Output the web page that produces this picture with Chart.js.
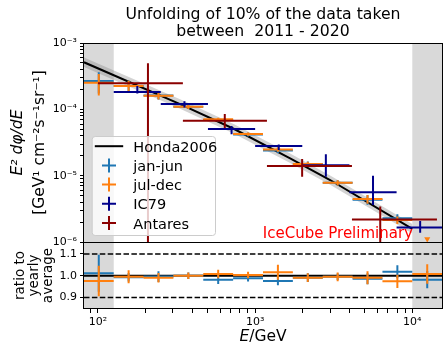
<!DOCTYPE html>
<html>
<head>
<meta charset="utf-8">
<script src="https://cdn.jsdelivr.net/npm/chart.js@4/dist/chart.umd.min.js"></script>
<style>
  html, body { margin: 0; padding: 0; background: #fff; }
</style>
</head>
<body>
<canvas id="chart" width="448" height="354"></canvas>
<script>
var fontName = '"DejaVu Sans"';

// seasonal unfolding bins (jan-jun and jul-dec share them)
var binLow  = [81.3, 125.9, 195, 302, 467.7, 724.4, 1122, 1738, 2692, 4169, 6457, 10000];
var binHigh = [125.9, 195, 302, 467.7, 724.4, 1122, 1738, 2692, 4169, 6457, 10000, 15488];
var binMid  = [101.2, 156.7, 242.7, 375.8, 582.1, 901.6, 1396, 2163, 3350, 5188, 8035, 12445];

var janJun    = [2.68e-4, 2.24e-4, 1.61e-4, 1.09e-4, 6.92e-5, 4.18e-5, 2.39e-5, 1.50e-5, 7.8e-6, 4.35e-6, 2.29e-6, null];
var janJunErr = [0.95e-4, 0.47e-4, 0.2e-4, 0.08e-4, 3.8e-6, 2.7e-6, 2.1e-6, 1.3e-6, 0.75e-6, 0.7e-6, 0.32e-6, null];
var julDec    = [2.52e-4, 2.25e-4, 1.60e-4, 1.09e-4, 7.1e-5, 4.24e-5, 2.49e-5, 1.50e-5, 7.8e-6, 4.44e-6, 2.14e-6, null];
var julDecErr = [0.9e-4, 0.45e-4, 0.19e-4, 0.076e-4, 3.6e-6, 2.5e-6, 2.0e-6, 1.2e-6, 0.7e-6, 0.67e-6, 0.28e-6, null];
var julDecLimitE = 12445, julDecLimit = 1.11e-6;

// ratio to yearly average
var ratioJanJun    = [1.011, 0.993, 0.996, 1.0, 0.982, 0.988, 0.976, 0.991, 0.995, 0.986, 1.018, 0.982];
var ratioJanJunErr = [0.085, 0.02, 0.025, 0.015, 0.02, 0.015, 0.02, 0.02, 0.015, 0.025, 0.03, 0.04];
var ratioJulDec    = [0.976, 0.995, 0.991, 1.0, 1.008, 1.003, 1.016, 0.991, 0.995, 0.991, 0.974, 1.008];
var ratioJulDecErr = [0.07, 0.03, 0.022, 0.015, 0.02, 0.015, 0.034, 0.02, 0.02, 0.03, 0.03, 0.045];

// IC79
var icLow  = [126, 251, 501, 1000, 1995, 3981, 7943];
var icHigh = [251, 501, 1000, 1995, 3981, 7943, 15849];
var icMid  = [178, 355, 708, 1413, 2818, 5623, 11220];
var ic79       = [1.82e-4, 1.20e-4, 5.05e-5, 2.79e-5, 1.43e-5, 5.6e-6, 1.66e-6];
var ic79ErrUp  = [4.3e-5, 1.2e-5, 5.5e-6, 1.7e-6, 6.7e-6, 4.35e-6, 4.1e-7];
var ic79ErrDn  = [0.8e-5, 1.3e-5, 8.5e-6, 3.6e-6, 4.7e-6, 2.0e-6, 2.8e-7];

// Antares
var antLow  = [100, 347, 1189, 4130];
var antHigh = [347, 1189, 4130, 14350];
var antMid  = [208, 641, 1991, 6252];
var antares    = [2.47e-4, 6.73e-5, 1.40e-5, 2.18e-6];
var antErrUp   = [2.47e-4, 1.77e-5, 3.8e-6, 1.26e-6];
var antErrDn   = [2.47e-4, 1.51e-5, 4.4e-6, 1.26e-6];

// Honda2006 model and its band
var hondaE    = [81.5, 333, 735, 1670, 3000, 10000];
var honda     = [5.12e-4, 1.20e-4, 5.05e-5, 1.82e-5, 8.6e-6, 1.58e-6];
var hondaHigh = [6.04e-4, 1.42e-4, 5.96e-5, 2.15e-5, 1.01e-5, 1.86e-6];
var hondaLow  = [4.35e-4, 1.02e-4, 4.29e-5, 1.55e-5, 7.3e-6, 1.34e-6];

var cutLow = 126, cutHigh = 10000;
var ratioDashed = [0.9, 1.1];
var ratioTicks = [0.9, 1.0, 1.1];

var xMin = 81.5, xMax = 15450;

var seriesNames  = ['Honda2006', 'jan-jun', 'jul-dec', 'IC79', 'Antares'];
var seriesColors = ['#000000', '#1f77b4', '#ff7f0e', '#00008b', '#8b0000'];

// log tick positions (major + minor)
var xTicks = [], yTicks = [];
for (var e = 1; e <= 4; e++) {
    for (var m = 1; m < 10; m++) {
        var v = m * Math.pow(10, e);
        if (v >= xMin && v <= xMax) xTicks.push(v);
    }
}
for (var e2 = -6; e2 <= -3; e2++) {
    for (var m2 = 1; m2 < 10; m2++) {
        var v2 = m2 * Math.pow(10, e2);
        if (v2 <= 1.0001e-3) yTicks.push(v2);
    }
}

function sup(n) {
    var map = {'-': '\u207b', '0': '\u2070', '1': '\u00b9', '2': '\u00b2', '3': '\u00b3',
        '4': '\u2074', '5': '\u2075', '6': '\u2076', '7': '\u2077', '8': '\u2078', '9': '\u2079'};
    return String(n).split('').map(c => map[c]).join('');
}
function powLabel(v) {
    var l = Math.log10(v);
    var e = Math.round(l);
    if (Math.abs(l - e) < 1e-6) return '10' + sup(e);
    return '';
}

function errSegments(xs, xlo, xhi, ys, eDn, eUp) {
    var pts = [];
    for (var i = 0; i < xs.length; i++) {
        if (ys[i] == null) continue;
        pts.push({x: xlo[i], y: ys[i]}, {x: xhi[i], y: ys[i]}, {x: xs[i], y: null});
        pts.push({x: xs[i], y: Math.max(ys[i] - eDn[i], 1e-9)}, {x: xs[i], y: ys[i] + eUp[i]}, {x: xs[i], y: null});
    }
    return pts;
}
function pairs(xs, ys) {
    return xs.map((x, i) => ({x: x, y: ys[i]}));
}
function errLine(label, color, pts, axis, order) {
    return {
        type: 'line', label: label, data: pts, yAxisID: axis, order: order,
        borderColor: color, borderWidth: 2, pointRadius: 0, spanGaps: false,
        fill: false, tension: 0, borderCapStyle: 'butt'
    };
}

var datasets = [
    { type: 'line', label: 'hondaLow', data: pairs(hondaE, hondaLow), yAxisID: 'y', order: 21,
      borderWidth: 0, pointRadius: 0, fill: false, borderColor: 'rgba(0,0,0,0)' },
    { type: 'line', label: 'hondaHigh', data: pairs(hondaE, hondaHigh), yAxisID: 'y', order: 20,
      borderWidth: 0, pointRadius: 0, fill: '-1', borderColor: 'rgba(0,0,0,0)',
      backgroundColor: 'rgba(128,128,128,0.35)' },
    { type: 'line', label: seriesNames[0], data: pairs(hondaE, honda), yAxisID: 'y', order: 19,
      borderColor: seriesColors[0], borderWidth: 2, pointRadius: 0, fill: false },
    errLine(seriesNames[1], seriesColors[1], errSegments(binMid, binLow, binHigh, janJun, janJunErr, janJunErr), 'y', 10),
    errLine(seriesNames[2], seriesColors[2], errSegments(binMid, binLow, binHigh, julDec, julDecErr, julDecErr), 'y', 9),
    { type: 'scatter', label: 'limit', data: [{x: julDecLimitE, y: julDecLimit}], yAxisID: 'y', order: 8,
      pointStyle: 'triangle', rotation: 180, pointRadius: 3.5, backgroundColor: seriesColors[2],
      borderColor: seriesColors[2], borderWidth: 0 },
    errLine(seriesNames[3], seriesColors[3], errSegments(icMid, icLow, icHigh, ic79, ic79ErrDn, ic79ErrUp), 'y', 7),
    errLine(seriesNames[4], seriesColors[4], errSegments(antMid, antLow, antHigh, antares, antErrDn, antErrUp), 'y', 6),
    // ratio panel
    { type: 'line', label: 'one', data: [{x: xMin, y: 1.0}, {x: xMax, y: 1.0}], yAxisID: 'yr', order: 18,
      borderColor: '#000', borderWidth: 2, pointRadius: 0, fill: false },
    { type: 'line', label: 'dashLow', data: [{x: xMin, y: ratioDashed[0]}, {x: xMax, y: ratioDashed[0]}], yAxisID: 'yr', order: 17,
      borderColor: '#000', borderWidth: 1.5, borderDash: [5.5, 2.4], pointRadius: 0, fill: false },
    { type: 'line', label: 'dashHigh', data: [{x: xMin, y: ratioDashed[1]}, {x: xMax, y: ratioDashed[1]}], yAxisID: 'yr', order: 17,
      borderColor: '#000', borderWidth: 1.5, borderDash: [5.5, 2.4], pointRadius: 0, fill: false },
    errLine('ratio jan-jun', seriesColors[1], errSegments(binMid, binLow, binHigh, ratioJanJun, ratioJanJunErr, ratioJanJunErr), 'yr', 5),
    errLine('ratio jul-dec', seriesColors[2], errSegments(binMid, binLow, binHigh, ratioJulDec, ratioJulDecErr, ratioJulDecErr), 'yr', 4)
];

var decor = {
    id: 'decor',
    beforeDatasetsDraw: function(chart) {
        var ctx = chart.ctx, sx = chart.scales.x, a = chart.chartArea;
        var l = sx.getPixelForValue(cutLow), r = sx.getPixelForValue(cutHigh);
        ctx.save();
        ctx.fillStyle = '#d9d9d9';
        ctx.fillRect(a.left, a.top, l - a.left, a.bottom - a.top);
        ctx.fillRect(r, a.top, a.right - r, a.bottom - a.top);
        ctx.restore();
    },
    afterDraw: function(chart) {
        var ctx = chart.ctx, sx = chart.scales.x, sy = chart.scales.y, sr = chart.scales.yr, a = chart.chartArea;
        ctx.save();

        // frames of both panels
        ctx.strokeStyle = '#000';
        ctx.lineWidth = 1;
        ctx.strokeRect(Math.round(a.left) - 0.5, Math.round(sy.top) + 0.5, Math.round(a.right - a.left) + 1, Math.round(sy.bottom - sy.top));
        ctx.strokeRect(Math.round(a.left) - 0.5, Math.round(sr.top) + 0.5, Math.round(a.right - a.left) + 1, Math.round(sr.bottom - sr.top) - 1);

        // preliminary label
        ctx.fillStyle = '#ff0000';
        ctx.font = '15px ' + fontName;
        ctx.textAlign = 'left';
        ctx.textBaseline = 'alphabetic';
        ctx.fillText('IceCube Preliminary', sx.getPixelForValue(1120), sy.getPixelForValue(1.13e-6));

        // title
        var cx = (a.left + a.right) / 2;
        ctx.fillStyle = '#000';
        ctx.textAlign = 'center';
        ctx.textBaseline = 'middle';
        ctx.font = '15.7px ' + fontName;
        ctx.fillText('Unfolding of 10% of the data taken', cx, 14.5);
        ctx.fillText('between  2011 - 2020', cx, 32);

        // x title
        ctx.font = 'italic 15.5px ' + fontName;
        var w1 = ctx.measureText('E').width;
        ctx.font = '15.5px ' + fontName;
        var w2 = ctx.measureText('/GeV').width;
        var sx0 = cx - (w1 + w2) / 2;
        ctx.textAlign = 'left';
        ctx.font = 'italic 15.5px ' + fontName;
        ctx.fillText('E', sx0, 337);
        ctx.font = '15.5px ' + fontName;
        ctx.fillText('/GeV', sx0 + w1, 337);

        // y titles
        var my = (sy.top + sy.bottom) / 2;
        ctx.textAlign = 'center';
        ctx.save();
        ctx.translate(18, my);
        ctx.rotate(-Math.PI / 2);
        ctx.font = 'italic 15.5px ' + fontName;
        ctx.fillText('E\u00b2 d\u03c6/dE', 0, 0);
        ctx.restore();
        ctx.save();
        ctx.translate(39.5, my);
        ctx.rotate(-Math.PI / 2);
        ctx.font = '15.5px ' + fontName;
        ctx.fillText('[GeV\u00b9 cm\u207b\u00b2s\u207b\u00b9sr\u207b\u00b9]', 0, 0);
        ctx.restore();

        var mr = (sr.top + sr.bottom) / 2;
        var rLines = ['ratio to', 'yearly', 'average'];
        var rX = [20.5, 34.5, 48.5];
        ctx.font = '13.5px ' + fontName;
        for (var i = 0; i < rLines.length; i++) {
            ctx.save();
            ctx.translate(rX[i], mr);
            ctx.rotate(-Math.PI / 2);
            ctx.fillText(rLines[i], 0, 0);
            ctx.restore();
        }

        // legend
        var lx = a.left + 7.7, ly = sy.bottom - 106, lw = 123.3, lh = 99;
        ctx.beginPath();
        if (ctx.roundRect) ctx.roundRect(lx + 0.5, ly + 0.5, lw, lh, 3);
        else ctx.rect(lx + 0.5, ly + 0.5, lw, lh);
        ctx.fillStyle = 'rgba(255,255,255,0.8)';
        ctx.fill();
        ctx.strokeStyle = '#cccccc';
        ctx.lineWidth = 1;
        ctx.stroke();
        ctx.font = '14.5px ' + fontName;
        ctx.textAlign = 'left';
        ctx.textBaseline = 'alphabetic';
        for (var k = 0; k < seriesNames.length; k++) {
            var base = ly + 15.7 + k * 19.2;
            var cy = base - 5.5;
            var hx = lx + 17.3;
            ctx.strokeStyle = seriesColors[k];
            ctx.lineWidth = 2;
            ctx.beginPath();
            if (k === 0) {
                ctx.moveTo(hx - 14.2, cy);
                ctx.lineTo(hx + 14.2, cy);
            } else {
                ctx.moveTo(hx - 7, cy);
                ctx.lineTo(hx + 7, cy);
                ctx.moveTo(hx, cy - 7);
                ctx.lineTo(hx, cy + 7);
            }
            ctx.stroke();
            ctx.fillStyle = '#000';
            ctx.fillText(seriesNames[k], lx + 41.6, base);
        }
        ctx.restore();
    }
};

var tickFont = { family: 'DejaVu Sans', size: 11 };

var chart = new Chart(document.getElementById('chart'), {
    data: { datasets: datasets },
    options: {
        responsive: false,
        animation: false,
        events: [],
        layout: { padding: { top: 43, right: 6, left: 0, bottom: 0 } },
        plugins: { legend: { display: false }, tooltip: { enabled: false }, title: { display: false } },
        scales: {
            x: {
                type: 'logarithmic', min: xMin, max: xMax, position: 'bottom',
                afterBuildTicks: function(s) { s.ticks = xTicks.map(v => ({value: v})); },
                afterFit: function(s) { s.height = 45; },
                ticks: { autoSkip: false, maxRotation: 0, minRotation: 0, color: '#000', font: tickFont, padding: 3, callback: function(v) { return powLabel(v); } },
                grid: { drawOnChartArea: false, tickLength: 4, color: '#000' },
                border: { display: false }
            },
            y: {
                type: 'logarithmic', min: 1e-6, max: 1e-3, position: 'left',
                stack: 'panels', stackWeight: 199, weight: 2,
                afterBuildTicks: function(s) { s.ticks = yTicks.map(v => ({value: v})); },
                afterFit: function(s) { s.width = 84; },
                ticks: { autoSkip: false, color: '#000', font: tickFont, padding: 3, callback: function(v) { return powLabel(v); } },
                grid: { drawOnChartArea: false, tickLength: 4, color: '#000' },
                border: { display: false }
            },
            yr: {
                type: 'linear', min: 0.847, max: 1.155, position: 'left',
                stack: 'panels', stackWeight: 67, weight: 1,
                afterBuildTicks: function(s) { s.ticks = ratioTicks.map(v => ({value: v})); },
                afterFit: function(s) { s.width = 84; },
                ticks: { autoSkip: false, color: '#000', font: tickFont, padding: 3, callback: function(v) { return v.toFixed(1); } },
                grid: { drawOnChartArea: false, tickLength: 4, color: '#000' },
                border: { display: false }
            }
        }
    },
    plugins: [decor]
});
</script>
</body>
</html>
